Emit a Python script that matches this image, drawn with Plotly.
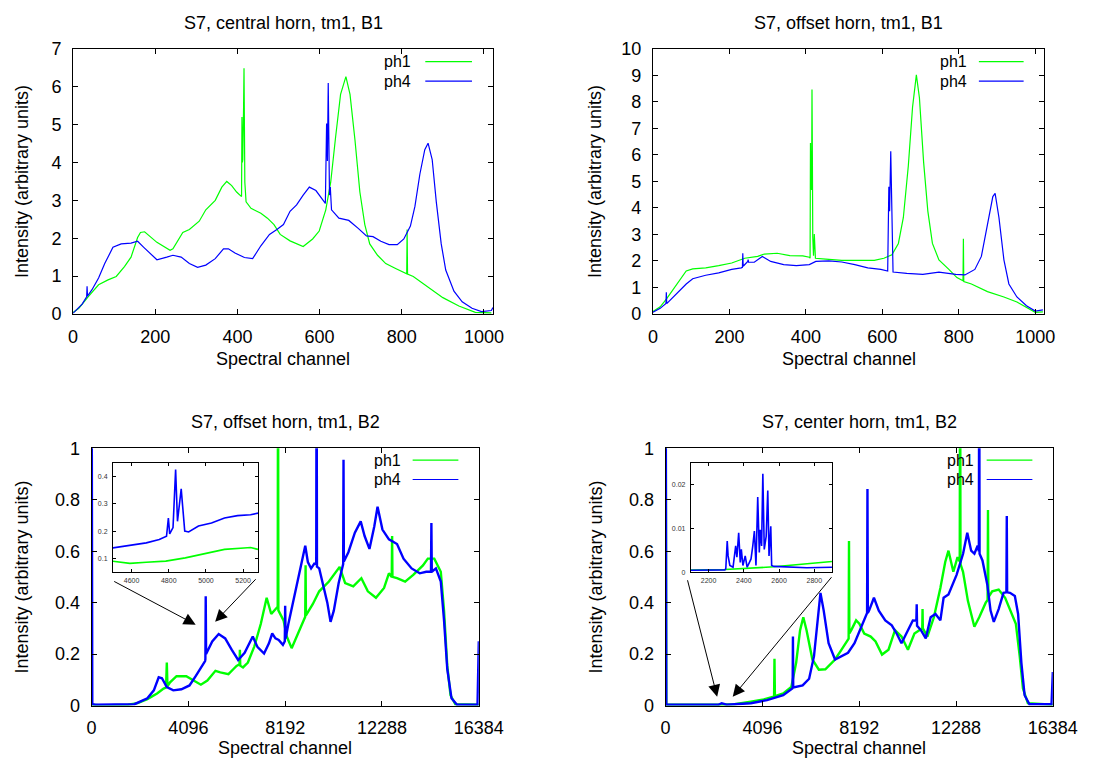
import plotly.graph_objects as go

# ---------------- data ----------------
# Panel 1: S7, central horn, tm1, B1
p1_ph1_x = [0, 14, 38, 62, 85, 105, 125, 141, 157, 164, 174, 204, 236, 243, 267, 283, 307, 323, 346, 362, 374, 386, 398, 408, 410, 411, 412, 413, 415, 416, 417, 418, 421, 433, 457, 473, 489, 504, 528, 560, 583, 599, 615, 627, 639, 651, 664, 674, 686, 698, 710, 722, 741, 761, 785, 809, 812, 813, 814, 828, 860, 900, 939, 979, 1018]
p1_ph1_y = [0.04, 0.15, 0.47, 0.77, 0.9, 0.99, 1.25, 1.5, 2.02, 2.15, 2.17, 1.89, 1.68, 1.72, 2.15, 2.23, 2.45, 2.75, 3.0, 3.35, 3.5, 3.39, 3.22, 3.12, 3.1, 5.2, 4.0, 4.08, 5.5, 6.49, 5.0, 3.48, 2.96, 2.79, 2.66, 2.53, 2.36, 2.1, 1.93, 1.78, 1.98, 2.19, 2.75, 3.48, 4.68, 5.8, 6.27, 5.8, 4.6, 3.22, 2.36, 1.85, 1.55, 1.33, 1.2, 1.06, 1.06, 2.23, 1.05, 0.99, 0.73, 0.43, 0.21, 0.04, 0.03]
p1_ph4_x = [0, 22, 33, 34, 35, 46, 62, 77, 97, 117, 141, 157, 172, 192, 204, 228, 243, 263, 283, 303, 323, 346, 366, 378, 394, 417, 437, 457, 478, 496, 512, 528, 544, 560, 575, 591, 603, 614, 617, 619, 621, 624, 626, 629, 647, 671, 694, 714, 730, 749, 769, 789, 805, 821, 832, 844, 856, 864, 874, 884, 896, 907, 927, 947, 971, 994, 1018, 1022]
p1_ph4_y = [0.02, 0.26, 0.45, 0.73, 0.47, 0.64, 0.95, 1.33, 1.76, 1.85, 1.87, 1.92, 1.76, 1.55, 1.43, 1.5, 1.55, 1.5, 1.33, 1.23, 1.29, 1.46, 1.72, 1.72, 1.61, 1.49, 1.46, 1.8, 2.1, 2.23, 2.36, 2.71, 2.88, 3.14, 3.35, 3.26, 3.09, 2.92, 5.03, 4.04, 6.1, 3.14, 3.35, 2.75, 2.53, 2.47, 2.26, 2.06, 2.04, 1.92, 1.83, 1.83, 1.98, 2.32, 2.84, 3.69, 4.34, 4.51, 4.08, 2.96, 1.85, 1.16, 0.6, 0.32, 0.15, 0.06, 0.09, 0.17]

# Panel 2: S7, offset horn, tm1, B1
p2_ph1_x = [0, 19, 36, 53, 70, 87, 104, 138, 172, 206, 240, 274, 291, 325, 358, 392, 409, 411, 412, 413, 414, 415, 416, 417, 418, 420, 422, 423, 425, 452, 494, 536, 579, 604, 625, 642, 655, 668, 679, 689, 697, 708, 719, 731, 748, 774, 795, 811, 812, 813, 833, 875, 918, 952, 977, 1000, 1020]
p2_ph1_y = [0.09, 0.27, 0.58, 0.94, 1.31, 1.62, 1.70, 1.74, 1.82, 1.92, 2.1, 2.17, 2.26, 2.29, 2.2, 2.19, 2.14, 2.1, 6.45, 4.7, 6.0, 4.68, 8.47, 6.0, 2.9, 2.2, 3.02, 2.2, 2.1, 2.07, 2.02, 2.02, 2.02, 2.1, 2.23, 2.66, 3.64, 5.59, 7.8, 9.02, 8.16, 5.72, 3.88, 2.66, 2.04, 1.68, 1.37, 1.25, 2.84, 1.22, 1.13, 0.84, 0.64, 0.45, 0.23, 0.06, 0.08]
p2_ph4_x = [0, 19, 34, 35, 36, 53, 70, 87, 104, 138, 172, 206, 231, 234, 235, 236, 248, 249, 250, 265, 286, 308, 342, 375, 409, 426, 460, 494, 528, 562, 596, 614, 617, 619, 622, 625, 628, 664, 706, 748, 792, 816, 842, 859, 876, 889, 895, 905, 918, 931, 952, 977, 1000, 1020]
p2_ph4_y = [0.06, 0.21, 0.39, 0.82, 0.39, 0.64, 0.88, 1.13, 1.33, 1.46, 1.55, 1.68, 1.74, 1.76, 2.29, 1.8, 1.98, 2.05, 1.95, 1.95, 2.17, 1.98, 1.86, 1.82, 1.86, 1.98, 2.0, 1.96, 1.86, 1.74, 1.68, 1.62, 4.8, 3.88, 6.14, 2.9, 1.58, 1.53, 1.49, 1.58, 1.49, 1.47, 1.68, 2.17, 3.51, 4.43, 4.55, 3.64, 2.04, 1.13, 0.64, 0.31, 0.11, 0.15]

# Panel 3: S7, offset horn, tm1, B2
p3_ph1_x = [0, 439, 1537, 1948, 2360, 2771, 3046, 3150, 3183, 3210, 3320, 3594, 4006, 4349, 4624, 4898, 5241, 5447, 5790, 5995, 6133, 6260, 6275, 6290, 6407, 6613, 6887, 7161, 7408, 7601, 7848, 7875, 7889, 7903, 8122, 8259, 8465, 8671, 8945, 9040, 9055, 9070, 9357, 9631, 10043, 10317, 10496, 10729, 11072, 11415, 11689, 12032, 12375, 12581, 12700, 12716, 12730, 12924, 13267, 13610, 14021, 14227, 14501, 14776, 14913, 15050, 15187, 15393, 16384]
p3_ph1_y = [0.003, 0.0, 0.003, 0.009, 0.025, 0.047, 0.066, 0.07, 0.167, 0.075, 0.09, 0.114, 0.114, 0.097, 0.081, 0.097, 0.135, 0.129, 0.122, 0.141, 0.154, 0.16, 0.217, 0.155, 0.148, 0.167, 0.23, 0.318, 0.419, 0.356, 0.381, 0.38, 1.5, 0.37, 0.331, 0.268, 0.223, 0.268, 0.331, 0.345, 0.545, 0.35, 0.394, 0.444, 0.482, 0.514, 0.539, 0.476, 0.463, 0.495, 0.444, 0.419, 0.457, 0.514, 0.5, 0.659, 0.5, 0.495, 0.482, 0.508, 0.545, 0.571, 0.571, 0.52, 0.369, 0.154, 0.04, 0.005, 0.003]
p3_ph4_x = [0, 30, 165, 1811, 2360, 2634, 2840, 2977, 3183, 3457, 3800, 4143, 4418, 4692, 4802, 4815, 4829, 4845, 4871, 5104, 5378, 5653, 5927, 6201, 6476, 6819, 7024, 7298, 7504, 7642, 7779, 7917, 8095, 8175, 8191, 8210, 8328, 8534, 8740, 8918, 9041, 9151, 9288, 9425, 9505, 9521, 9537, 9631, 9837, 9974, 10111, 10249, 10455, 10645, 10660, 10675, 10866, 11140, 11387, 11552, 11757, 11963, 12100, 12306, 12581, 12924, 13198, 13541, 13884, 14158, 14360, 14378, 14395, 14569, 14776, 14913, 15050, 15229, 15462, 16330, 16384]
p3_ph4_y = [1.5, 0.005, 0.003, 0.005, 0.028, 0.059, 0.11, 0.106, 0.072, 0.059, 0.063, 0.078, 0.116, 0.154, 0.173, 0.18, 0.425, 0.2, 0.205, 0.249, 0.278, 0.261, 0.217, 0.177, 0.205, 0.268, 0.227, 0.202, 0.242, 0.28, 0.261, 0.255, 0.236, 0.25, 0.388, 0.26, 0.318, 0.407, 0.482, 0.571, 0.621, 0.558, 0.533, 0.552, 0.55, 1.5, 0.54, 0.533, 0.457, 0.4, 0.325, 0.369, 0.476, 0.55, 0.956, 0.56, 0.596, 0.672, 0.716, 0.659, 0.609, 0.697, 0.773, 0.684, 0.646, 0.628, 0.571, 0.533, 0.514, 0.52, 0.52, 0.71, 0.52, 0.533, 0.482, 0.331, 0.141, 0.028, 0.003, 0.003, 0.25]

# Inset of panel 3
i3_ph1_x = [4495, 4591, 4679, 4784, 4889, 4995, 5100, 5205, 5240, 5280]
i3_ph1_y = [0.09, 0.082, 0.086, 0.09, 0.102, 0.118, 0.133, 0.138, 0.14, 0.133]
i3_ph4_x = [4495, 4591, 4679, 4749, 4788, 4798, 4805, 4823, 4837, 4847, 4867, 4875, 4886, 4907, 4960, 5030, 5100, 5170, 5240, 5280]
i3_ph4_y = [0.138, 0.147, 0.157, 0.169, 0.181, 0.248, 0.19, 0.213, 0.426, 0.236, 0.355, 0.29, 0.2, 0.197, 0.219, 0.23, 0.248, 0.257, 0.26, 0.266]

# Panel 4: S7, center horn, tm1, B2
p4_ph1_x = [0, 30, 2235, 2920, 3606, 4154, 4565, 4590, 4607, 4625, 4977, 5319, 5525, 5690, 5827, 5964, 6211, 6485, 6759, 7170, 7444, 7650, 7745, 7760, 7775, 7856, 8061, 8198, 8404, 8678, 8884, 9158, 9432, 9707, 9981, 10255, 10529, 10735, 10860, 10872, 10885, 11077, 11352, 11626, 11832, 11969, 12175, 12353, 12446, 12462, 12478, 12585, 12791, 13065, 13270, 13545, 13625, 13641, 13657, 13819, 14093, 14367, 14641, 14819, 14983, 15121, 15327, 16384]
p4_ph1_y = [1.5, 0.003, 0.003, 0.005, 0.015, 0.024, 0.034, 0.035, 0.182, 0.036, 0.047, 0.072, 0.167, 0.293, 0.343, 0.293, 0.179, 0.139, 0.141, 0.179, 0.217, 0.249, 0.26, 0.64, 0.28, 0.293, 0.331, 0.318, 0.28, 0.268, 0.249, 0.198, 0.217, 0.293, 0.268, 0.217, 0.28, 0.293, 0.3, 0.375, 0.3, 0.268, 0.343, 0.457, 0.558, 0.602, 0.52, 0.577, 0.56, 1.5, 0.55, 0.52, 0.407, 0.306, 0.343, 0.4, 0.41, 0.76, 0.42, 0.444, 0.451, 0.419, 0.356, 0.318, 0.192, 0.066, 0.009, 0.003]
p4_ph4_x = [0, 30, 2235, 2372, 2578, 3606, 4291, 4977, 5360, 5375, 5388, 5400, 5799, 6073, 6279, 6416, 6553, 6690, 6896, 7170, 7444, 7719, 7993, 8336, 8525, 8541, 8557, 8610, 8815, 9021, 9295, 9570, 9775, 9981, 10255, 10461, 10610, 10625, 10640, 10804, 11009, 11215, 11420, 11626, 11763, 11969, 12312, 12587, 12765, 12929, 13066, 13203, 13255, 13270, 13285, 13407, 13613, 13750, 13887, 14093, 14298, 14420, 14436, 14452, 14573, 14778, 14915, 15053, 15190, 15396, 16330, 16384]
p4_ph4_y = [1.5, 0.003, 0.003, 0.009, 0.003, 0.009, 0.021, 0.04, 0.066, 0.07, 0.268, 0.07, 0.078, 0.104, 0.192, 0.318, 0.438, 0.369, 0.242, 0.179, 0.192, 0.205, 0.242, 0.318, 0.36, 0.842, 0.36, 0.369, 0.419, 0.369, 0.331, 0.312, 0.28, 0.242, 0.293, 0.331, 0.33, 0.394, 0.31, 0.293, 0.261, 0.343, 0.356, 0.331, 0.419, 0.432, 0.508, 0.59, 0.672, 0.602, 0.59, 0.621, 0.6, 1.5, 0.59, 0.564, 0.47, 0.369, 0.325, 0.375, 0.438, 0.44, 0.737, 0.44, 0.438, 0.426, 0.356, 0.167, 0.04, 0.005, 0.005, 0.13]

# Inset of panel 4
i4_ph1_x = [2070, 2293, 2571, 2757, 2900]
i4_ph1_y = [0.00045, 0.0006, 0.0012, 0.0018, 0.0024]
i4_ph4_x = [2070, 2293, 2298, 2306, 2311, 2321, 2339, 2354, 2361, 2371, 2380, 2386, 2395, 2408, 2419, 2432, 2441, 2451, 2460, 2469, 2479, 2488, 2493, 2501, 2508, 2516, 2527, 2536, 2543, 2553, 2558, 2571, 2664, 2757, 2900]
i4_ph4_y = [0.0004, 0.0005, 0.0008, 0.0071, 0.0037, 0.0015, 0.0011, 0.006, 0.0034, 0.009, 0.0022, 0.0052, 0.0015, 0.0037, 0.0011, 0.0022, 0.003, 0.006, 0.0094, 0.0015, 0.0172, 0.0045, 0.0097, 0.006, 0.0225, 0.0052, 0.0082, 0.0187, 0.0037, 0.0105, 0.0015, 0.0013, 0.0011, 0.001, 0.0011]

titles = ["S7, central horn, tm1, B1", "S7, offset horn, tm1, B1",
          "S7, offset horn, tm1, B2", "S7, center horn, tm1, B2"]
series_names = ["ph1", "ph4"]
b1_ticks = [0, 200, 400, 600, 800, 1000]
b2_ticks = [0, 4096, 8192, 12288, 16384]
b2_yticks = [0, 0.2, 0.4, 0.6, 0.8, 1]

# ---------------- layout helpers ----------------
W, H = 1107, 772
GREEN = "#00ff00"
BLUE = "#0000ff"
FONT = "Liberation Sans"
FS = 18
LEG_FS = 16


def fx(p):
    return p / W


def fy(p):
    return 1 - p / H


# panel boxes in pixels: (left, right, top, bottom)
boxes = [(70, 502, 40, 312), (666, 1068, 40, 312), (89, 487, 450, 714), (679, 1077, 450, 714),
         (111, 260, 465, 577), (705, 850, 465, 577)]

fig = go.Figure()

panels = [
    (p1_ph1_x, p1_ph1_y, p1_ph4_x, p1_ph4_y, 1.2),
    (p2_ph1_x, p2_ph1_y, p2_ph4_x, p2_ph4_y, 1.2),
    (p3_ph1_x, p3_ph1_y, p3_ph4_x, p3_ph4_y, 2.4),
    (p4_ph1_x, p4_ph1_y, p4_ph4_x, p4_ph4_y, 2.4),
    (i3_ph1_x, i3_ph1_y, i3_ph4_x, i3_ph4_y, 1.6),
    (i4_ph1_x, i4_ph1_y, i4_ph4_x, i4_ph4_y, 1.6),
]

for i, (gx, gy, bx, by, lw) in enumerate(panels):
    n = "" if i == 0 else str(i + 1)
    fig.add_trace(go.Scatter(x=gx, y=gy, mode="lines", name=series_names[0],
                             line=dict(color=GREEN, width=lw), xaxis="x" + n, yaxis="y" + n,
                             showlegend=False, cliponaxis=True))
    fig.add_trace(go.Scatter(x=bx, y=by, mode="lines", name=series_names[1],
                             line=dict(color=BLUE, width=lw), xaxis="x" + n, yaxis="y" + n,
                             showlegend=False, cliponaxis=True))

axis_common = dict(showline=True, linecolor="black", linewidth=1, mirror="allticks",
                   ticks="inside", tickcolor="black", showgrid=False, zeroline=False)

xcfg = [
    dict(range=[0, 1023], tickvals=b1_ticks, ticktext=[str(v) for v in b1_ticks]),
    dict(range=[0, 1023], tickvals=b1_ticks, ticktext=[str(v) for v in b1_ticks]),
    dict(range=[0, 16384], tickvals=b2_ticks, ticktext=[str(v) for v in b2_ticks]),
    dict(range=[0, 16384], tickvals=b2_ticks, ticktext=[str(v) for v in b2_ticks]),
    dict(range=[4500, 5280], tickvals=[4600, 4800, 5000, 5200], ticktext=["4600", "4800", "5000", "5200"]),
    dict(range=[2100, 2900], tickvals=[2200, 2400, 2600, 2800], ticktext=["2200", "2400", "2600", "2800"]),
]
ycfg = [
    dict(range=[0, 7], dtick=1),
    dict(range=[0, 10], dtick=1),
    dict(range=[0, 1], tickvals=b2_yticks, ticktext=["0", "0.2", "0.4", "0.6", "0.8", "1"]),
    dict(range=[0, 1], tickvals=b2_yticks, ticktext=["0", "0.2", "0.4", "0.6", "0.8", "1"]),
    dict(range=[0.05, 0.45], tickvals=[0.1, 0.2, 0.3, 0.4], ticktext=["0.1", "0.2", "0.3", "0.4"]),
    dict(range=[0, 0.025], tickvals=[0, 0.01, 0.02], ticktext=["0", "0.01", "0.02"]),
]

layout = dict(width=W, height=H, margin=dict(l=0, r=0, t=0, b=0),
              paper_bgcolor="white", plot_bgcolor="white", showlegend=False,
              font=dict(family=FONT, size=FS, color="black"))

for i in range(6):
    n = "" if i == 0 else str(i + 1)
    l, r, t, b = boxes[i]
    inset = i >= 4
    fsize = 7 if inset else FS
    tl = 3 if inset else 5
    xa = dict(axis_common, domain=[fx(l), fx(r)], anchor="y" + n, ticklen=tl,
              tickfont=dict(family=FONT, size=fsize, color="#333" if inset else "black"),
              ticklabelstandoff=2 if inset else 6, **xcfg[i])
    ya = dict(axis_common, domain=[fy(b), fy(t)], anchor="x" + n, ticklen=tl,
              tickfont=dict(family=FONT, size=fsize, color="#333" if inset else "black"),
              ticklabelstandoff=3 if inset else 7, **ycfg[i])
    layout["xaxis" + n] = xa
    layout["yaxis" + n] = ya

fig.update_layout(**layout)

annotations = []
shapes = []
# titles and axis labels
title_pos = [(286, 13), (867, 13), (288, 423), (878, 423)]
ylab_pos = [(18, 176), (607, 176), (17, 582), (607, 582)]
xlab_y = [358, 358, 758, 758]
legend_pos = [(418, 432, 480, 53, 73), (990, 1001, 1047, 53, 73),
              (408, 419, 466, 462, 482), (997, 1009, 1056, 462, 482)]
for i in range(4):
    l, r, t, b = boxes[i]
    annotations.append(dict(text=titles[i], x=fx(title_pos[i][0]), y=fy(title_pos[i][1]),
                            xref="paper", yref="paper", showarrow=False,
                            xanchor="center", yanchor="middle", font=dict(size=FS)))
    annotations.append(dict(text="Intensity (arbitrary units)", x=fx(ylab_pos[i][0]), y=fy(ylab_pos[i][1]),
                            xref="paper", yref="paper", showarrow=False, textangle=-90,
                            xanchor="center", yanchor="middle", font=dict(size=FS)))
    annotations.append(dict(text="Spectral channel", x=fx((l + r) / 2), y=fy(xlab_y[i]),
                            xref="paper", yref="paper", showarrow=False,
                            xanchor="center", yanchor="middle", font=dict(size=FS)))
    tx, lx0, lx1, y1, y2 = legend_pos[i]
    for name, col, yy in ((series_names[0], GREEN, y1), (series_names[1], BLUE, y2)):
        annotations.append(dict(text=name, x=fx(tx), y=fy(yy), xref="paper", yref="paper",
                                showarrow=False, xanchor="right", yanchor="middle",
                                borderpad=0, font=dict(size=LEG_FS)))
        shapes.append(dict(type="line", xref="paper", yref="paper",
                           x0=fx(lx0), x1=fx(lx1), y0=fy(yy), y1=fy(yy),
                           line=dict(color=col, width=1.2)))

# arrows pointing from inset corners to the zoomed region
arrows = [((113, 587), (196, 631)), ((258, 584), (216, 628)),
          ((702, 587), (732, 705)), ((848, 584), (748, 705))]
for (tx0, ty0), (hx, hy) in arrows:
    annotations.append(dict(text="", x=fx(hx), y=fy(hy), xref="paper", yref="paper",
                            ax=tx0 - hx, ay=ty0 - hy, axref="pixel", ayref="pixel",
                            showarrow=True, arrowhead=2, arrowsize=2.4, arrowwidth=1,
                            arrowcolor="black", standoff=0))

fig.update_layout(annotations=annotations, shapes=shapes)
fig.write_html("out.html")
